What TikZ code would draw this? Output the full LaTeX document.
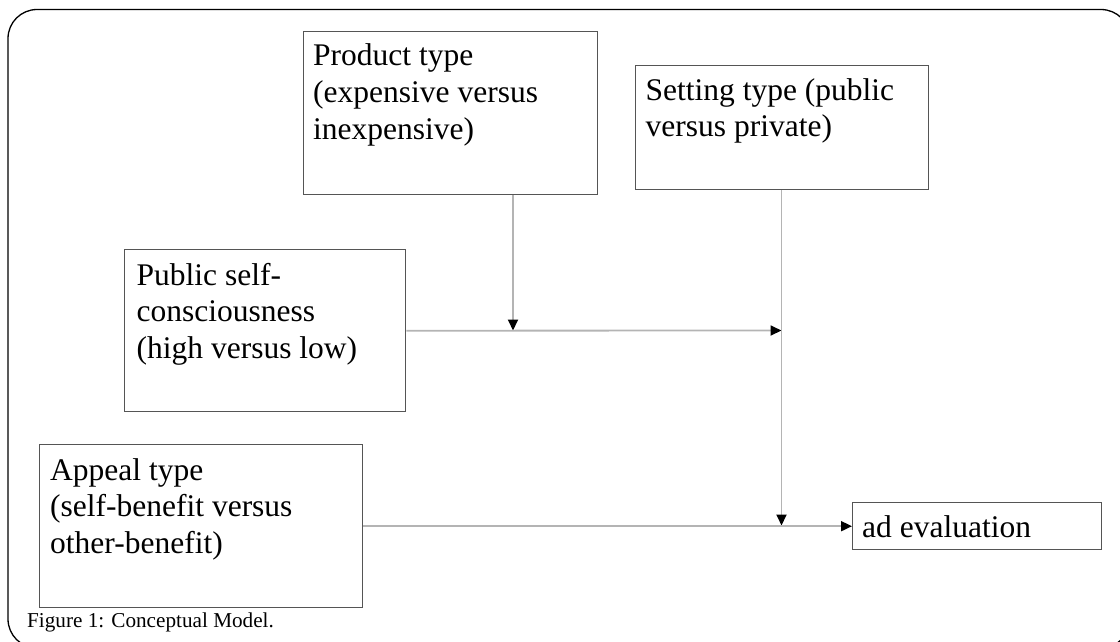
\documentclass[tikz,border=0pt]{standalone}
\usepackage{fontspec}
\setmainfont{Liberation Serif}
\usetikzlibrary{arrows.meta}
\definecolor{boxgray}{HTML}{555555}
\definecolor{linegray}{HTML}{B4B4B4}
\tikzset{
  box/.style={draw=boxgray, line width=1.4pt, inner sep=0pt, anchor=north west},
  boxtext/.style={anchor=base west, inner sep=0pt, font=\fontsize{31.5}{36.8}\selectfont},
  conn/.style={draw=linegray, line width=1.8pt, -{Triangle[length=11pt,width=10pt,color=black]}},
  frame/.style={draw=black, line width=1.3pt, rounded corners=29pt}
}
\begin{document}
\begin{tikzpicture}[x=1pt,y=-1pt]
\useasboundingbox (0,0) rectangle (1120,641);
\begin{scope}
\clip (0,0) rectangle (1120,641);
\draw[frame] (8,9.5) rectangle (1130,648);
\end{scope}
% boxes
\node[box, minimum width=294pt, minimum height=163pt] (product) at (303,31) {};
\node[box, minimum width=293pt, minimum height=124pt] (setting) at (635,65) {};
\node[box, minimum width=281pt, minimum height=162pt] (public) at (124,249) {};
\node[box, minimum width=323pt, minimum height=163pt] (appeal) at (39,444) {};
\node[box, minimum width=249pt, minimum height=47pt] (ad) at (852,502) {};
% texts
\node[boxtext] (productt) at (313,65.7) {\parbox[t]{300pt}{Product type\\(expensive versus\\inexpensive)}};
\node[boxtext] (settingt) at (645.5,100) {\parbox[t]{300pt}{Setting type (public\\versus private)}};
\node[boxtext] (publict) at (136.5,285) {\parbox[t]{300pt}{Public self-\\consciousness\\(high versus low)}};
\node[boxtext] (appealt) at (50,480) {\parbox[t]{300pt}{Appeal type\\(self-benefit versus\\other-benefit)}};
\node[boxtext] (adt) at (862,537) {ad evaluation};
% junctions
\coordinate (j1) at (513,330.5);
\coordinate (j2) at (781.5,330.5);
\coordinate (j3) at (781.5,525.5);
% connectors
\draw[conn] (product.south -| j1) -- (j1);
\draw[conn] (public.east) -- (j2);
\draw[conn] (setting.south -| j3) -- (j3);
\draw[conn] (appeal.east) -- (ad.west);
% caption
\node[anchor=base west, inner sep=0pt, font=\fontsize{21.2}{25}\selectfont] (cap) at (27,627) {Figure 1: Conceptual Model.};
\end{tikzpicture}
\end{document}
